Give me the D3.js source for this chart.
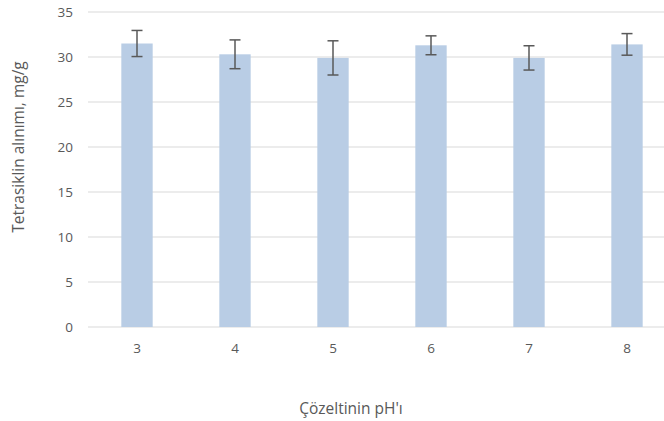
<!DOCTYPE html>
<html>
<head>
<meta charset="utf-8">
<script src="https://cdn.jsdelivr.net/npm/d3@7"></script>
<style>
  html, body { margin: 0; padding: 0; background: #fff; }
  text { font-family: "Open Sans", Lato, sans-serif; fill: #595959; }
</style>
</head>
<body>
<svg id="chart" width="664" height="421"></svg>
<script>
// pH values of the solution and tetracycline uptake (mg/g) with error margins
const categories = ["3", "4", "5", "6", "7", "8"];
const uptake = [31.5, 30.3, 29.9, 31.3, 29.9, 31.4];
const errors = [1.45, 1.6, 1.9, 1.05, 1.35, 1.2];
const yTicks = [0, 5, 10, 15, 20, 25, 30, 35];
const yTitle = "Tetrasiklin alınımı, mg/g";
const xTitle = "Çözeltinin pH'ı";

const svg = d3.select("#chart");
const plotLeft = 88, plotRight = 676, plotTop = 12, plotBottom = 327;

const x = d3.scaleBand().domain(categories).range([plotLeft, plotRight]).paddingInner(0.68).paddingOuter(0.34);
const y = d3.scaleLinear().domain([0, 35]).range([plotBottom, plotTop]);

// horizontal gridlines
svg.append("g").selectAll("line").data(yTicks).join("line")
  .attr("x1", plotLeft).attr("x2", plotRight)
  .attr("y1", d => y(d)).attr("y2", d => y(d))
  .attr("stroke", "#d9d9d9").attr("stroke-width", 1);

// y-axis tick labels
svg.append("g").selectAll("text").data(yTicks).join("text")
  .attr("x", 73).attr("y", d => y(d)).attr("dy", "0.35em")
  .attr("text-anchor", "end").attr("font-size", 13.5)
  .text(d => d);

// bars
svg.append("g").selectAll("rect").data(uptake).join("rect")
  .attr("x", (d, i) => x(categories[i]))
  .attr("width", x.bandwidth())
  .attr("y", d => y(d))
  .attr("height", d => y(0) - y(d))
  .attr("fill", "#b9cde5");

// error bars
const eb = svg.append("g").attr("stroke", "#595959").attr("stroke-width", 1.5);
uptake.forEach((v, i) => {
  const cx = x(categories[i]) + x.bandwidth() / 2;
  const hi = y(v + errors[i]), lo = y(v - errors[i]);
  eb.append("line").attr("x1", cx).attr("x2", cx).attr("y1", hi).attr("y2", lo);
  eb.append("line").attr("x1", cx - 5.5).attr("x2", cx + 5.5).attr("y1", hi).attr("y2", hi);
  eb.append("line").attr("x1", cx - 5.5).attr("x2", cx + 5.5).attr("y1", lo).attr("y2", lo);
});

// x-axis category labels
svg.append("g").selectAll("text").data(categories).join("text")
  .attr("x", d => x(d) + x.bandwidth() / 2).attr("y", 348).attr("dy", "0.35em")
  .attr("text-anchor", "middle").attr("font-size", 13.5)
  .text(d => d);

// axis titles
svg.append("text").attr("x", 351).attr("y", 409).attr("dy", "0.35em")
  .attr("text-anchor", "middle").attr("font-size", 15.5).text(xTitle);
svg.append("text")
  .attr("transform", "translate(19,147) rotate(-90)")
  .attr("dy", "0.35em").attr("text-anchor", "middle").attr("font-size", 15.5)
  .text(yTitle);
</script>
</body>
</html>
